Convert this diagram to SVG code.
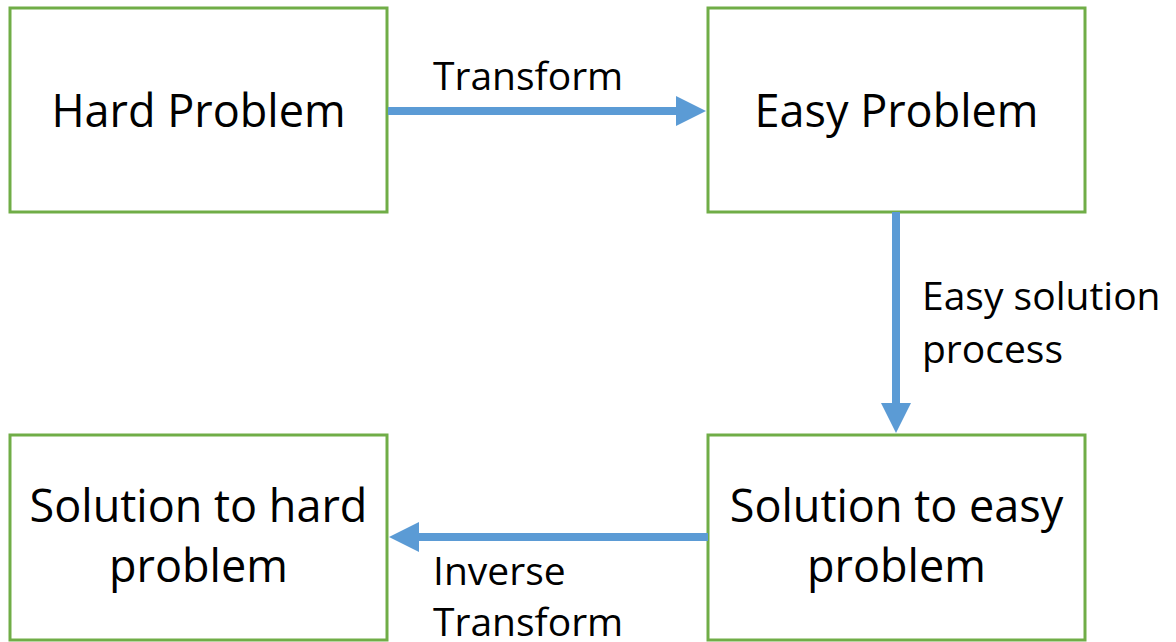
<svg xmlns="http://www.w3.org/2000/svg" width="1176" height="642" viewBox="0 0 1176 642">
<defs>
<style>
.box{fill:#ffffff;stroke:#70AD47;stroke-width:3}
.t{font-family:"Open Sans","Liberation Sans",sans-serif;font-size:45px;fill:#000;text-anchor:middle}
.l{font-family:"Open Sans","Liberation Sans",sans-serif;font-size:39px;fill:#000}
.c{stroke:#5B9BD5;stroke-width:8;fill:none}
.h{fill:#5B9BD5}
</style>
</defs>
<rect width="1176" height="642" fill="#ffffff"/>
<g id="hard">
<rect class="box" x="10" y="8" width="377" height="204"/>
<text class="t" x="198.5" y="127">Hard Problem</text>
</g>
<g id="easy">
<rect class="box" x="708" y="8" width="377" height="204"/>
<text class="t" x="896.5" y="127">Easy Problem</text>
</g>
<g id="solhard">
<rect class="box" x="10" y="435" width="377" height="205"/>
<text class="t" x="198.5" y="522">Solution to hard</text>
<text class="t" x="198.5" y="582">problem</text>
</g>
<g id="soleasy">
<rect class="box" x="708" y="435" width="377" height="205"/>
<text class="t" x="896.5" y="522">Solution to easy</text>
<text class="t" x="896.5" y="582">problem</text>
</g>
<g id="connectors">
<line class="c" x1="388" y1="111" x2="680" y2="111"/>
<polygon class="h" points="676,96 706,111 676,126"/>
<text class="l" x="433" y="90">Transform</text>
<line class="c" x1="896" y1="212" x2="896" y2="406"/>
<polygon class="h" points="881,403 896,433 911,403"/>
<text class="l" x="922" y="310">Easy solution</text>
<text class="l" x="922" y="363">process</text>
<line class="c" x1="708" y1="537" x2="416" y2="537"/>
<polygon class="h" points="419,522 389,537 419,552"/>
<text class="l" x="433" y="585">Inverse</text>
<text class="l" x="433" y="636">Transform</text>
</g>
</svg>
